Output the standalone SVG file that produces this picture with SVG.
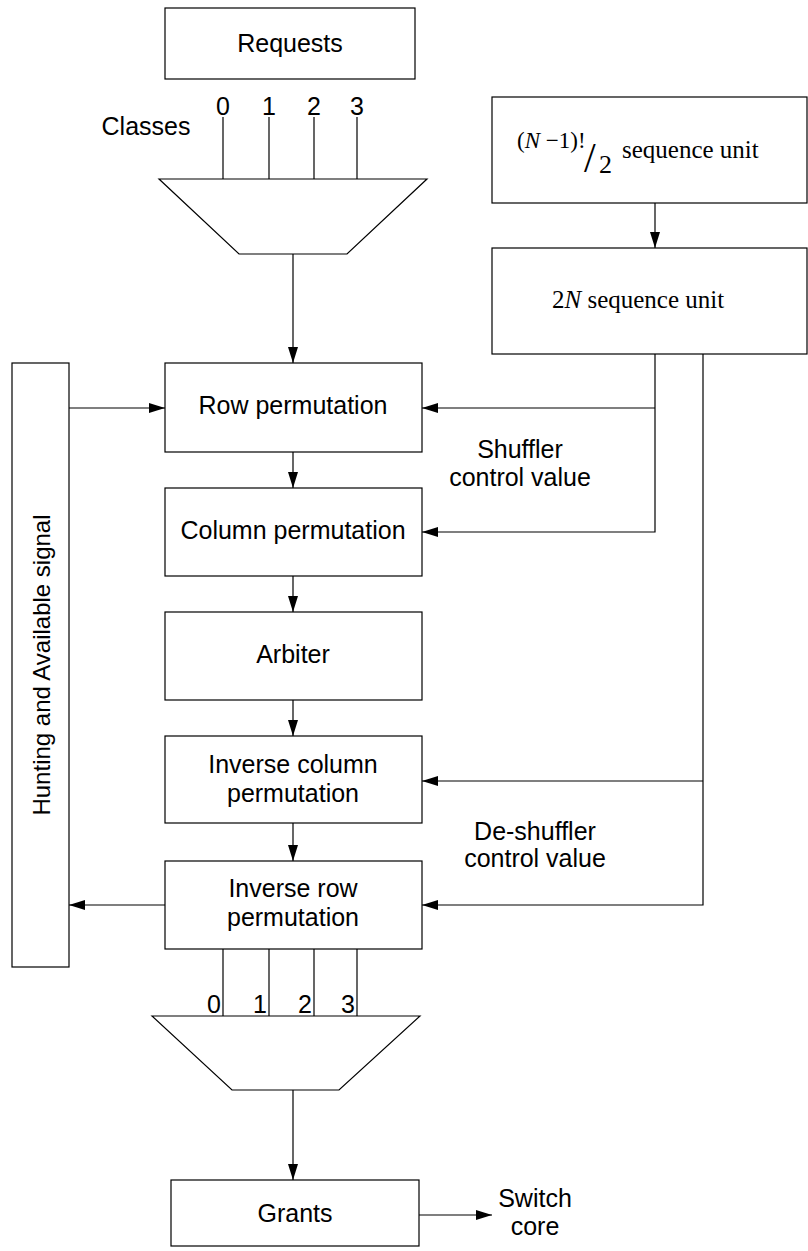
<svg xmlns="http://www.w3.org/2000/svg" width="808" height="1251" viewBox="0 0 808 1251">
  <style>
    .box { fill: #fff; stroke: #000; stroke-width: 1.2; }
    .ln { fill: none; stroke: #000; stroke-width: 1.2; }
    .lbl { font-family: "Liberation Sans", Arial, sans-serif; font-size: 25px; fill: #000; text-anchor: middle; }
    .tm { font-family: "Liberation Serif", "Times New Roman", serif; fill: #000; }
  </style>
  <defs>
    <marker id="arr" viewBox="0 0 16 10" refX="16" refY="5" markerWidth="16" markerHeight="10" markerUnits="userSpaceOnUse" orient="auto">
      <path d="M0,0 L16,5 L0,10 Z" fill="#000"/>
    </marker>
  </defs>
  <rect width="808" height="1251" fill="#fff"/>

  <!-- connectors -->
  <g id="connectors">
    <!-- class inputs into the multiplexer -->
    <line class="ln" x1="223" y1="117" x2="223" y2="179"/>
    <line class="ln" x1="269" y1="117" x2="269" y2="179"/>
    <line class="ln" x1="314" y1="117" x2="314" y2="179"/>
    <line class="ln" x1="357" y1="117" x2="357" y2="179"/>
    <!-- main vertical flow -->
    <line class="ln" x1="293" y1="254" x2="293" y2="363" marker-end="url(#arr)"/>
    <line class="ln" x1="293" y1="452" x2="293" y2="488" marker-end="url(#arr)"/>
    <line class="ln" x1="293" y1="576" x2="293" y2="612" marker-end="url(#arr)"/>
    <line class="ln" x1="293" y1="700" x2="293" y2="736" marker-end="url(#arr)"/>
    <line class="ln" x1="293" y1="823" x2="293" y2="861" marker-end="url(#arr)"/>
    <!-- demultiplexer outputs -->
    <line class="ln" x1="223" y1="949" x2="223" y2="1016"/>
    <line class="ln" x1="269" y1="949" x2="269" y2="1016"/>
    <line class="ln" x1="314" y1="949" x2="314" y2="1016"/>
    <line class="ln" x1="357" y1="949" x2="357" y2="1016"/>
    <line class="ln" x1="293" y1="1090" x2="293" y2="1180" marker-end="url(#arr)"/>
    <line class="ln" x1="419" y1="1215" x2="492" y2="1215" marker-end="url(#arr)"/>
    <!-- sequence units -->
    <line class="ln" x1="655" y1="203" x2="655" y2="248" marker-end="url(#arr)"/>
    <!-- shuffler control value -->
    <polyline class="ln" points="655,354 655,532 422,532" marker-end="url(#arr)"/>
    <line class="ln" x1="655" y1="408" x2="422" y2="408" marker-end="url(#arr)"/>
    <!-- de-shuffler control value -->
    <polyline class="ln" points="703,354 703,905 422,905" marker-end="url(#arr)"/>
    <line class="ln" x1="703" y1="781" x2="422" y2="781" marker-end="url(#arr)"/>
    <!-- hunting and available signal -->
    <line class="ln" x1="69" y1="408" x2="165" y2="408" marker-end="url(#arr)"/>
    <line class="ln" x1="165" y1="905" x2="69" y2="905" marker-end="url(#arr)"/>
  </g>

  <g id="requests">
    <rect class="box" x="165" y="8" width="250" height="71"/>
    <text class="lbl" x="290" y="52">Requests</text>
  </g>

  <g id="classes">
    <text class="lbl" x="146" y="135">Classes</text>
    <text class="lbl" x="223" y="115">0</text>
    <text class="lbl" x="269" y="115">1</text>
    <text class="lbl" x="314" y="115">2</text>
    <text class="lbl" x="357" y="115">3</text>
  </g>

  <g id="mux-in">
    <polygon class="box" points="159,179 427,179 347,254 239,254"/>
  </g>

  <g id="seq-fact">
    <rect class="box" x="492" y="97" width="315" height="106"/>
    <text class="tm" x="517" y="148" font-size="23">(<tspan font-style="italic">N</tspan> −1)!</text>
    <text class="tm" x="584" y="172" font-size="42">/</text>
    <text class="tm" x="599" y="173" font-size="26">2</text>
    <text class="tm" x="622" y="158" font-size="25">sequence unit</text>
  </g>

  <g id="seq-2n">
    <rect class="box" x="492" y="248" width="315" height="106"/>
    <text class="tm" x="552" y="308" font-size="25">2<tspan font-style="italic">N</tspan> sequence unit</text>
  </g>

  <g id="hunting">
    <rect class="box" x="12" y="363" width="57" height="604"/>
    <text class="lbl" transform="translate(50,665) rotate(-90)" x="0" y="0" style="font-size:24px">Hunting and Available signal</text>
  </g>

  <g id="row-perm">
    <rect class="box" x="165" y="363" width="257" height="89"/>
    <text class="lbl" x="293" y="414">Row permutation</text>
  </g>

  <g id="shuffler-label">
    <text class="lbl" x="520" y="458">Shuffler</text>
    <text class="lbl" x="520" y="486">control value</text>
  </g>

  <g id="col-perm">
    <rect class="box" x="165" y="488" width="257" height="88"/>
    <text class="lbl" x="293" y="539">Column permutation</text>
  </g>

  <g id="arbiter">
    <rect class="box" x="165" y="612" width="257" height="88"/>
    <text class="lbl" x="293" y="663">Arbiter</text>
  </g>

  <g id="inv-col-perm">
    <rect class="box" x="165" y="736" width="257" height="87"/>
    <text class="lbl" x="293" y="773">Inverse column</text>
    <text class="lbl" x="293" y="802">permutation</text>
  </g>

  <g id="deshuffler-label">
    <text class="lbl" x="535" y="840">De-shuffler</text>
    <text class="lbl" x="535" y="867">control value</text>
  </g>

  <g id="inv-row-perm">
    <rect class="box" x="165" y="861" width="257" height="88"/>
    <text class="lbl" x="293" y="897">Inverse row</text>
    <text class="lbl" x="293" y="926">permutation</text>
  </g>

  <g id="outputs">
    <text class="lbl" x="221" y="1013" style="text-anchor:end">0</text>
    <text class="lbl" x="267" y="1013" style="text-anchor:end">1</text>
    <text class="lbl" x="312" y="1013" style="text-anchor:end">2</text>
    <text class="lbl" x="355" y="1013" style="text-anchor:end">3</text>
  </g>

  <g id="mux-out">
    <polygon class="box" points="152,1016 420,1016 339,1090 232,1090"/>
  </g>

  <g id="grants">
    <rect class="box" x="171" y="1180" width="248" height="66"/>
    <text class="lbl" x="295" y="1222">Grants</text>
  </g>

  <g id="switch-core">
    <text class="lbl" x="535" y="1207">Switch</text>
    <text class="lbl" x="535" y="1235">core</text>
  </g>
</svg>
